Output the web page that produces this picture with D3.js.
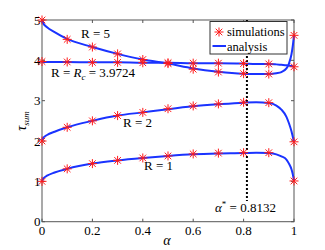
<!DOCTYPE html>
<meta charset="utf-8">
<head>
<title>tau sum vs alpha</title>
<script src="https://cdnjs.cloudflare.com/ajax/libs/d3/7.8.5/d3.min.js"></script>
</head>
<style>
body { margin: 0; background: #fff; }
text { font-family: "Liberation Serif", "DejaVu Serif", serif; fill: #000; }
</style>
<body>
<svg width="325" height="250"></svg>
<script>
// simulation points
var alphaSim = [0, 0.1, 0.2, 0.3, 0.4, 0.5, 0.6, 0.7, 0.8, 0.9, 1];
var simR1 = [1.00, 1.31, 1.44, 1.52, 1.58, 1.63, 1.68, 1.70, 1.71, 1.71, 1.01];
var simR2 = [2.00, 2.34, 2.50, 2.63, 2.71, 2.80, 2.87, 2.92, 2.96, 2.95, 1.98];
var simRc = [3.97, 3.96, 3.95, 3.95, 3.94, 3.94, 3.93, 3.93, 3.92, 3.91, 3.84];
var simR5 = [5.00, 4.52, 4.33, 4.16, 4.02, 3.92, 3.78, 3.71, 3.67, 3.66, 4.62];

// analysis curves
var alphaFit = [0, 0.005, 0.02, 0.05, 0.1, 0.2, 0.3, 0.4, 0.5, 0.6, 0.7, 0.8, 0.85, 0.9, 0.93, 0.95, 0.97, 0.98, 0.99, 0.995, 1];
var fitR1 = [1.00, 1.07, 1.14, 1.22, 1.31, 1.44, 1.52, 1.58, 1.63, 1.67, 1.69, 1.70, 1.71, 1.70, 1.67, 1.62, 1.54, 1.44, 1.30, 1.18, 1.01];
var fitR2 = [2.00, 2.08, 2.15, 2.23, 2.34, 2.50, 2.63, 2.71, 2.79, 2.86, 2.91, 2.95, 2.96, 2.94, 2.88, 2.78, 2.60, 2.44, 2.24, 2.11, 1.98];
var fitRc = [3.97, 3.96, 3.96, 3.96, 3.96, 3.95, 3.95, 3.94, 3.94, 3.93, 3.93, 3.92, 3.91, 3.91, 3.90, 3.89, 3.88, 3.87, 3.86, 3.85, 3.84];
var fitR5 = [5.00, 4.92, 4.82, 4.70, 4.53, 4.33, 4.16, 4.02, 3.92, 3.80, 3.72, 3.67, 3.66, 3.66, 3.68, 3.71, 3.80, 3.92, 4.15, 4.35, 4.62];

var xTicks = [0, 0.2, 0.4, 0.6, 0.8, 1];
var yTicks = [0, 1, 2, 3, 4, 5];
var alphaStar = 0.8132;

var x = d3.scaleLinear().domain([0, 1]).range([42, 294]);
var y = d3.scaleLinear().domain([0, 5]).range([221.7, 20]);

var svg = d3.select("svg");
var axisColor = "#555";

// box + inward ticks
svg.append("rect")
	.attr("x", x(0)).attr("y", y(5))
	.attr("width", x(1) - x(0)).attr("height", y(0) - y(5))
	.attr("fill", "none").attr("stroke", axisColor).attr("stroke-width", 1);

var tk = 3;
xTicks.forEach(function(t) {
	svg.append("line").attr("x1", x(t)).attr("x2", x(t)).attr("y1", y(0)).attr("y2", y(0) - tk).attr("stroke", axisColor);
	svg.append("line").attr("x1", x(t)).attr("x2", x(t)).attr("y1", y(5)).attr("y2", y(5) + tk).attr("stroke", axisColor);
	svg.append("text").attr("x", x(t)).attr("y", 235)
		.attr("text-anchor", "middle").attr("font-size", 13).text(t);
});
yTicks.forEach(function(t) {
	svg.append("line").attr("x1", x(0)).attr("x2", x(0) + tk).attr("y1", y(t)).attr("y2", y(t)).attr("stroke", axisColor);
	svg.append("line").attr("x1", x(1)).attr("x2", x(1) - tk).attr("y1", y(t)).attr("y2", y(t)).attr("stroke", axisColor);
	svg.append("text").attr("x", 40.5).attr("y", y(t) + 4.5)
		.attr("text-anchor", "end").attr("font-size", 13).text(t);
});

// axis labels
svg.append("text").attr("x", 167).attr("y", 245)
	.attr("text-anchor", "middle").attr("font-size", 14).attr("font-style", "italic").text("α");
var yl = svg.append("text")
	.attr("transform", "translate(26,121) rotate(-90)")
	.attr("text-anchor", "middle").attr("font-size", 14).attr("font-style", "italic");
yl.append("tspan").text("τ");
yl.append("tspan").attr("font-size", 9).attr("dy", 3).text("sum");

// dotted alpha* line
svg.append("line")
	.attr("x1", x(alphaStar)).attr("x2", x(alphaStar))
	.attr("y1", y(5)).attr("y2", 201)
	.attr("stroke", "#000").attr("stroke-width", 2).attr("stroke-dasharray", "2,2");

// curves
var line = d3.line()
	.x(function(d) { return x(d[0]); })
	.y(function(d) { return y(d[1]); })
	.curve(d3.curveMonotoneX);

[fitR1, fitR2, fitRc, fitR5].forEach(function(s) {
	svg.append("path")
		.datum(alphaFit.map(function(a, i) { return [a, s[i]]; }))
		.attr("d", line)
		.attr("fill", "none").attr("stroke", "#1a33ff").attr("stroke-width", 2);
});

// asterisk markers
var r = 4.5, dd = 3.3;
var starPath = "M" + (-r) + ",0L" + r + ",0M0," + (-r) + "L0," + r +
	"M" + (-dd) + "," + (-dd) + "L" + dd + "," + dd + "M" + (-dd) + "," + dd + "L" + dd + "," + (-dd);

[simR1, simR2, simRc, simR5].forEach(function(s) {
	svg.append("g").selectAll("path")
		.data(alphaSim.map(function(a, i) { return [a, s[i]]; }))
		.enter().append("path")
		.attr("transform", function(d) { return "translate(" + x(d[0]) + "," + y(d[1]) + ")"; })
		.attr("d", starPath)
		.attr("fill", "none").attr("stroke", "#ff1a1a").attr("stroke-width", 1);
});

// curve labels
function eqLabel(px, py, parts) {
	var t = svg.append("text").attr("x", px).attr("y", py).attr("font-size", 13).attr("xml:space", "preserve");
	parts.forEach(function(p) {
		var ts = t.append("tspan").text(p.t);
		if (p.i) ts.attr("font-style", "italic");
		if (p.sub) ts.attr("font-size", 9).attr("dy", 3);
		if (p.sup) ts.attr("font-size", 9).attr("dy", -5);
		if (p.dy) ts.attr("dy", p.dy);
	});
}
eqLabel(81, 37.5, [{t: "R = 5"}]);
eqLabel(51, 77, [{t: "R = "}, {t: "R", i: true}, {t: "c", i: true, sub: true}, {t: " = 3.9724", dy: -3}]);
eqLabel(123, 127, [{t: "R = 2"}]);
eqLabel(144, 170, [{t: "R = 1"}]);
eqLabel(215, 212, [{t: "α", i: true}, {t: "*", sup: true}, {t: " = 0.8132", dy: 5}]);

// legend
svg.append("rect").attr("x", 210).attr("y", 21.5).attr("width", 77).attr("height", 32.5)
	.attr("fill", "#fff").attr("stroke", "#333").attr("stroke-width", 1);
svg.append("path").attr("transform", "translate(219,32)").attr("d", starPath)
	.attr("fill", "none").attr("stroke", "#ff1a1a").attr("stroke-width", 1);
svg.append("line").attr("x1", 212.5).attr("x2", 226).attr("y1", 46).attr("y2", 46)
	.attr("stroke", "#1a33ff").attr("stroke-width", 2);
svg.append("text").attr("x", 227).attr("y", 36).attr("font-size", 12.5).text("simulations");
svg.append("text").attr("x", 227).attr("y", 50.5).attr("font-size", 12.5).text("analysis");
</script>
</body>
